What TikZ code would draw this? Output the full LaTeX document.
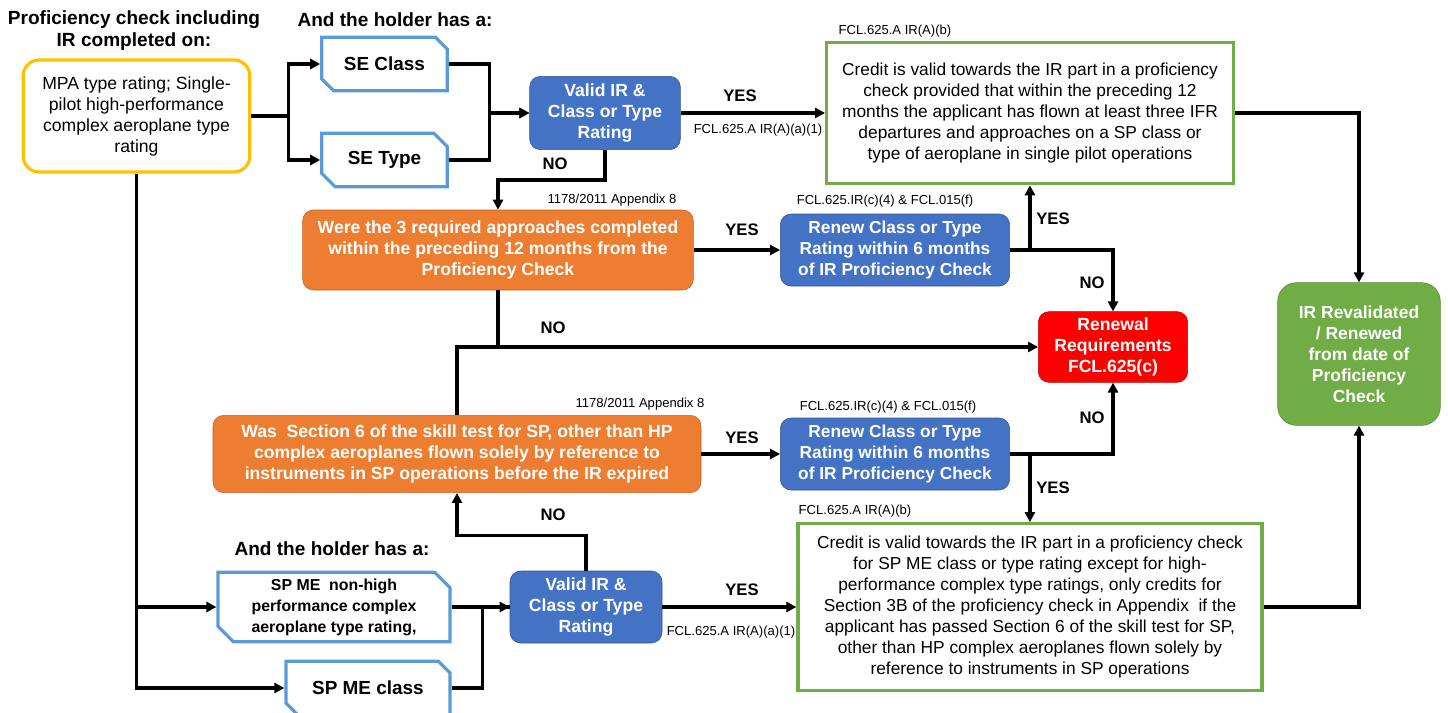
\documentclass[tikz,border=0pt]{standalone}
\usepackage{fontspec}
\setmainfont{Liberation Sans}
\usetikzlibrary{shapes.misc,arrows.meta}
\definecolor{cyellow}{HTML}{FFC000}
\definecolor{cblue}{HTML}{4472C4}
\definecolor{corange}{HTML}{ED7D31}
\definecolor{cgreen}{HTML}{70AD47}
\definecolor{clblue}{HTML}{5B9BD5}
\begin{document}
\begin{tikzpicture}[x=0.75pt,y=-0.75pt,
  >={Triangle[length=7.5pt,width=7.5pt]},
  conn/.style={line width=2.5pt},
  head/.style={font=\fontsize{14.3}{16.5}\selectfont\bfseries,align=center},
  lbl/.style={font=\fontsize{12.5}{15}\selectfont\bfseries},
  ref/.style={font=\fontsize{9.8}{11}\selectfont},
  mpabox/.style={draw=cyellow,line width=2.4pt,rounded corners=12pt,align=center,
    minimum width=170pt,minimum height=84pt,font=\fontsize{13.2}{15.75}\selectfont},
  snip/.style={chamfered rectangle,chamfered rectangle corners={north east,south west},
    chamfered rectangle xsep=8pt,draw=clblue,line width=2.4pt,align=center,inner sep=0pt,
    font=\fontsize{14.2}{15.75}\selectfont\bfseries},
  bluebox/.style={fill=cblue,draw=cblue!75!black,rounded corners=8pt,text=white,align=center,
    font=\fontsize{13.2}{15.75}\selectfont\bfseries},
  orangebox/.style={fill=corange,draw=corange!80!black,rounded corners=8pt,text=white,align=center,
    font=\fontsize{13.2}{15.75}\selectfont\bfseries},
  greenbox/.style={draw=cgreen,line width=2.4pt,fill=white,align=center,
    font=\fontsize{13}{15.75}\selectfont},
]
\useasboundingbox (0,0) rectangle (1448,713);

\node[head] (hprof) at (134,31) {Proficiency check including\\IR completed on:};
\node[head] (hhold1) at (395,20) {And the holder has a:};
\node[head] (hhold2) at (332,549) {And the holder has a:};

\node[mpabox] (mpa) at (136.5,116) {MPA type rating; Single-\\pilot high-performance\\complex aeroplane type\\rating};
\node[snip,minimum width=94pt,minimum height=40pt] (seclass) at (384.5,64) {SE Class};
\node[snip,minimum width=94pt,minimum height=40pt] (setype) at (384.5,160) {SE Type};
\node[bluebox,minimum width=113pt,minimum height=55pt] (valid1) at (605,113) {Valid IR \&\\Class or Type\\Rating};
\node[greenbox,minimum width=305pt,minimum height=106pt] (credit1) at (1030,113) {Credit is valid towards the IR part in a proficiency\\check provided that within the preceding 12\\months the applicant has flown at least three IFR\\departures and approaches on a SP class or\\type of aeroplane in single pilot operations};
\node[orangebox,minimum width=293pt,minimum height=60pt] (approach) at (498,250) {Were the 3 required approaches completed\\within the preceding 12 months from the\\Proficiency Check};
\node[bluebox,minimum width=172pt,minimum height=54pt,font=\fontsize{13}{15.75}\selectfont\bfseries] (renew1) at (895,250) {Renew Class or Type\\Rating within 6 months\\of IR Proficiency Check};
\node[bluebox,fill=red,draw=red!70!black,minimum width=112pt,minimum height=53pt] (renewal) at (1113,347) {Renewal\\Requirements\\FCL.625(c)};
\node[bluebox,fill=cgreen,draw=cgreen!80!black,rounded corners=14pt,minimum width=122pt,minimum height=107pt,
  font=\fontsize{13.1}{15.75}\selectfont\bfseries] (revalid) at (1359,354) {IR Revalidated\\/ Renewed\\from date of\\Proficiency\\Check};
\node[orangebox,minimum width=366pt,minimum height=58pt] (section6) at (457,454) {Was \ Section 6 of the skill test for SP, other than HP\\complex aeroplanes flown solely by reference to\\instruments in SP operations before the IR expired};
\node[bluebox,minimum width=172pt,minimum height=54pt,font=\fontsize{13}{15.75}\selectfont\bfseries] (renew2) at (895,454) {Renew Class or Type\\Rating within 6 months\\of IR Proficiency Check};
\node[greenbox,minimum width=348pt,minimum height=125pt] (credit2) at (1030,607) {Credit is valid towards the IR part in a proficiency check\\for SP ME class or type rating except for high-\\performance complex type ratings, only credits for\\Section 3B of the proficiency check in Appendix \ if the\\applicant has passed Section 6 of the skill test for SP,\\other than HP complex aeroplanes flown solely by\\reference to instruments in SP operations};
\node[snip,minimum width=174pt,minimum height=52pt,font=\fontsize{11.9}{15.75}\selectfont\bfseries] (spme) at (334,607) {SP ME \ non-high\\performance complex\\aeroplane type rating,};
\node[snip,minimum width=123pt,minimum height=40pt] (spmeclass) at (368,688) {SP ME class};
\node[bluebox,minimum width=114pt,minimum height=54pt] (valid2) at (586,607) {Valid IR \&\\Class or Type\\Rating};

\node[ref] (refb1) at (895,31) {FCL.625.A IR(A)(b)};
\node[ref] (refb2) at (855,511) {FCL.625.A IR(A)(b)};
\node[ref] (refa1) at (758,130) {FCL.625.A IR(A)(a)(1)};
\node[ref] (refa2) at (731,632) {FCL.625.A IR(A)(a)(1)};
\node[ref] (app1) at (612,200) {1178/2011 Appendix 8};
\node[ref] (app2) at (640,404) {1178/2011 Appendix 8};
\node[ref] (fcl1) at (885,201) {FCL.625.IR(c)(4) \& FCL.015(f)};
\node[ref] (fcl2) at (888,407) {FCL.625.IR(c)(4) \& FCL.015(f)};

\node[lbl] (yes1) at (740,96) {YES};
\node[lbl] (no1) at (555,164) {NO};
\node[lbl] (yes2) at (742,230) {YES};
\node[lbl] (yes3) at (1053,219) {YES};
\node[lbl] (no3) at (1092,283) {NO};
\node[lbl] (no4) at (553,328) {NO};
\node[lbl] (yes4) at (742,438) {YES};
\node[lbl] (no5) at (1092,418) {NO};
\node[lbl] (yes5) at (1053,488) {YES};
\node[lbl] (no6) at (553,515) {NO};
\node[lbl] (yes6) at (742,590) {YES};

\draw[conn,->] (mpa.east) -- ++(37,0) |- (seclass.west);
\draw[conn,->] (mpa.east) -- ++(37,0) |- (setype.west);
\draw[conn,->] (seclass.east) -- ++(41,0) |- (valid1.west);
\draw[conn,->] (setype.east) -- ++(41,0) |- (valid1.west);
\draw[conn,->] (valid1.east) -- (credit1.west);
\draw[conn,->] (credit1.east) -| (revalid.north);
\draw[conn,->] (valid1.south) -- ++(0,30) -| (approach.north);
\draw[conn,->] (approach.east) -- (renew1.west);
\draw[conn,->] (renew1.east) -| (renewal.north);
\draw[conn,->] ([xshift=15pt]renew1.east) -- ([xshift=15pt]renew1.east |- credit1.south);
\draw[conn,->] (approach.south) |- (renewal.west);
\draw[conn] (section6.north) |- (approach.south |- renewal.west);
\draw[conn,->] (section6.east) -- (renew2.west);
\draw[conn,->] (renew2.east) -| (renewal.south);
\draw[conn,->] ([xshift=15pt]renew2.east) -- ([xshift=15pt]renew2.east |- credit2.north);
\draw[conn,->] (credit2.east) -| (revalid.south);
\draw[conn,->] (mpa.south) |- (spme.west);
\draw[conn,->] (mpa.south) |- (spmeclass.west);
\draw[conn,->] (spme.east) -- (valid2.west);
\draw[conn] (spmeclass.east) -- ++(31,0) |- (valid2.west);
\draw[conn,->] (valid2.north) -- ++(0,-35) -| (section6.south);
\draw[conn,->] (valid2.east) -- (credit2.west);
\end{tikzpicture}
\end{document}
